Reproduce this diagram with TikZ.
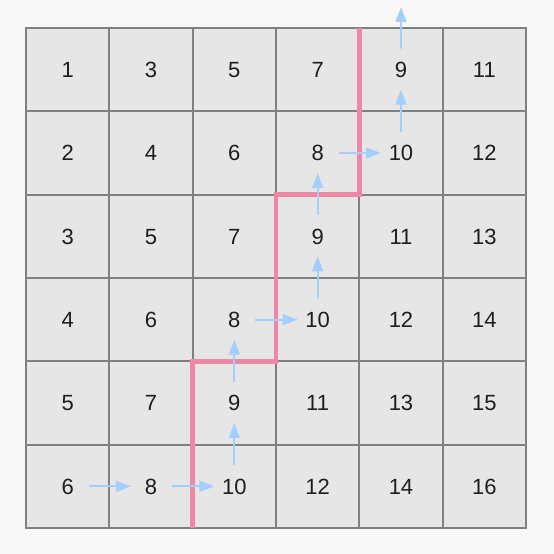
\documentclass[tikz,border=0pt]{standalone}
\usepackage{fontspec}
\setmainfont{Liberation Sans}
\usetikzlibrary{arrows.meta}
\definecolor{bgc}{RGB}{248,248,248}
\definecolor{cellc}{RGB}{230,230,230}
\definecolor{gridc}{RGB}{128,128,128}
\definecolor{pathc}{RGB}{239,135,166}
\definecolor{arrc}{RGB}{166,206,250}
\definecolor{txtc}{RGB}{30,30,30}
\begin{document}
\begin{tikzpicture}[x=1pt,y=-1pt,
  num/.style={text=txtc,font=\fontsize{22}{24}\selectfont,inner sep=0pt,text height=15.8pt,text depth=0pt},
  cellbox/.style={fill=cellc,draw=gridc,line width=1.8pt},
  step arrow/.style={draw=arrc,line width=1.8pt,-{Triangle[width=11pt,length=15pt]},shorten <=21pt,shorten >=20pt},
  cut/.style={draw=pathc,line width=4.5pt}]
\fill[bgc] (0,0) rectangle (554,554);
\useasboundingbox (0,0) rectangle (554,554);
\def\cs{83.33}
\foreach \i in {0,...,5}{
  \foreach \j in {0,...,5}{
    \pgfmathtruncatemacro{\v}{\i+1+2*\j}
    \path[cellbox] (26+\j*\cs,28+\i*\cs) rectangle ++(\cs,\cs);
    \node[num] (c-\i-\j) at (26+\j*\cs+\cs/2,28+\i*\cs+\cs/2) {\v};
  }
}
\draw[draw=gridc,line width=1.8pt] (26,28) rectangle (526,528);
% cut path
\coordinate (p0) at (192.7,528);
\coordinate (p1) at (192.7,361.3);
\coordinate (p2) at (276,361.3);
\coordinate (p3) at (276,194.7);
\coordinate (p4) at (359.3,194.7);
\coordinate (p5) at (359.3,28);
\draw[cut,line join=miter] (p0) -- (p1) -- (p2) -- (p3) -- (p4) -- (p5);
% arrows
\coordinate (top) at (401,7);
\draw[step arrow] (c-5-0.center) -- (c-5-1.center);
\draw[step arrow] (c-5-1.center) -- (c-5-2.center);
\draw[step arrow] (c-5-2.center) -- (c-4-2.center);
\draw[step arrow] (c-4-2.center) -- (c-3-2.center);
\draw[step arrow] (c-3-2.center) -- (c-3-3.center);
\draw[step arrow] (c-3-3.center) -- (c-2-3.center);
\draw[step arrow] (c-2-3.center) -- (c-1-3.center);
\draw[step arrow] (c-1-3.center) -- (c-1-4.center);
\draw[step arrow] (c-1-4.center) -- (c-0-4.center);
\draw[step arrow,shorten >=0pt] (c-0-4.center) -- (top);
\end{tikzpicture}
\end{document}
